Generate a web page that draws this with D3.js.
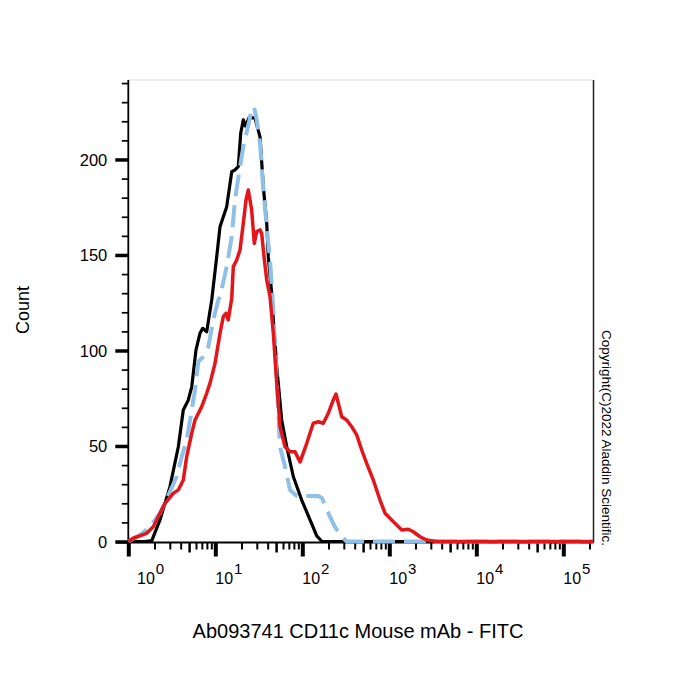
<!DOCTYPE html>
<html>
<head>
<meta charset="utf-8">
<script src="https://cdn.jsdelivr.net/npm/d3@7"></script>
<style>
  html, body { margin: 0; padding: 0; background: #fff; }
  svg { display: block; }
  text { font-family: Arial, "Liberation Sans", Helvetica, sans-serif; fill: #000; }
</style>
</head>
<body>
<svg id="chart" width="700" height="700"></svg>
<script>
// ---- data (x in log10 units of FITC intensity, y = count) ----
const blackX = [0, 0.19, 0.27, 0.364, 0.479, 0.575, 0.632, 0.69, 0.729, 0.778, 0.824, 0.855, 0.901, 0.959, 1.016, 1.054, 1.131, 1.189, 1.226, 1.264, 1.292, 1.322, 1.345, 1.39, 1.456, 1.514, 1.552, 1.591, 1.609, 1.648, 1.667, 1.706, 1.763, 1.821, 1.897, 1.993, 2.089, 2.166, 2.226, 3.5, 5.34];
const blackY = [0, 0, 0.5, 11.3, 28.7, 49.6, 68.8, 74.1, 81, 100.3, 109, 111.6, 109.8, 126.4, 149, 164.8, 175.3, 193.6, 194.5, 196.2, 213.7, 220.7, 217.5, 222, 221.6, 211.8, 185.6, 166.6, 149.1, 129.9, 116, 91.5, 63.6, 49.6, 33.9, 21.7, 11.3, 2.9, 0, 0, 0];

const blueX = [0, 0.134, 0.249, 0.364, 0.479, 0.556, 0.614, 0.671, 0.729, 0.767, 0.805, 0.862, 0.92, 0.977, 1.034, 1.054, 1.131, 1.189, 1.226, 1.284, 1.322, 1.379, 1.418, 1.445, 1.476, 1.514, 1.552, 1.591, 1.629, 1.667, 1.706, 1.744, 1.801, 1.859, 1.936, 2.184, 2.226, 2.318, 2.375, 2.453, 2.51, 5.34];
const blueY = [0, 3.4, 7.7, 14.8, 26.1, 33.9, 44.4, 53.1, 68.8, 79.3, 94.1, 96.8, 102, 116, 126.4, 128.2, 143.9, 159.6, 178.8, 196.2, 206.7, 218, 225.9, 227.6, 220.7, 208.5, 184, 164.8, 147.4, 121.2, 84.6, 49.6, 39.2, 27, 23.8, 23.8, 22.8, 13, 7.7, 2.5, 0, 0];

const redX = [0, 0.057, 0.211, 0.287, 0.364, 0.422, 0.517, 0.575, 0.632, 0.671, 0.729, 0.767, 0.844, 0.901, 0.939, 0.997, 1.054, 1.092, 1.123, 1.149, 1.189, 1.207, 1.246, 1.284, 1.322, 1.353, 1.379, 1.418, 1.448, 1.476, 1.514, 1.533, 1.56, 1.591, 1.629, 1.667, 1.706, 1.744, 1.801, 1.859, 1.916, 1.974, 2.051, 2.126, 2.184, 2.241, 2.299, 2.356, 2.387, 2.414, 2.453, 2.51, 2.568, 2.625, 2.683, 2.74, 2.816, 2.893, 2.951, 3.046, 3.143, 3.218, 3.276, 3.353, 3.43, 3.545, 5.34];
const redY = [0, 1.7, 4.3, 7.7, 14.8, 20, 25.2, 27, 32.2, 44.4, 56.6, 63.6, 70.6, 77.6, 82.8, 93.3, 109, 117.7, 119.5, 116, 127.3, 143.9, 147.4, 152.6, 166.6, 178.8, 184, 173.6, 156.1, 162.2, 163.1, 161.4, 149.1, 136.9, 128.2, 109, 82.8, 60.1, 49.6, 47, 47, 41.6, 51.4, 61.9, 62.7, 61.9, 67.1, 74.1, 77.2, 72.4, 65.3, 63.6, 60.1, 55.8, 47.9, 40.9, 32.2, 21.7, 14.8, 10.4, 6, 6.4, 5.1, 2.5, 0.8, 0, 0];

const yMajorTicks = [0, 50, 100, 150, 200];
const yMinorTicks = [10, 20, 30, 40, 60, 70, 80, 90, 110, 120, 130, 140, 160, 170, 180, 190, 210, 220, 230, 240];
const xDecades = [0, 1, 2, 3, 4, 5];
const xTitle = "Ab093741 CD11c Mouse mAb - FITC";
const yTitle = "Count";
const copyright = "Copyright(C)2022 Aladdin Scientific.";

// ---- layout ----
const svg = d3.select("#chart");
const pLeft = 128.3, pRight = 593.5, pTop = 80, pBottom = 541.5;
const x = d3.scaleLog().domain([1, Math.pow(10, 5.347)]).range([pLeft, pRight]);
const y = d3.scaleLinear().domain([0, 241.6]).range([pBottom, pTop]);

// frame (top & right)
svg.append("line").attr("x1", pLeft).attr("x2", pRight).attr("y1", pTop).attr("y2", pTop)
  .attr("stroke", "#dddddd").attr("stroke-width", 1);
svg.append("line").attr("x1", pRight).attr("x2", pRight).attr("y1", pTop).attr("y2", pBottom + 1)
  .attr("stroke", "#222").attr("stroke-width", 1.5);

// y axis
const yAxisMajor = d3.axisLeft(y).tickValues(yMajorTicks).tickSize(13).tickPadding(8).tickFormat(d3.format("d"));
const gy = svg.append("g").attr("transform", `translate(${pLeft},0)`).call(yAxisMajor);
gy.select(".domain").attr("stroke", "#000").attr("stroke-width", 1.8).attr("d", `M0,${pTop}V${pBottom + 1}`);
gy.selectAll(".tick line").attr("stroke", "#000").attr("stroke-width", 3.5);
gy.selectAll(".tick text").style("font-size", "16.5px").attr("font-family", null).attr("dy", "0.35em");
const gyMinor = svg.append("g").attr("transform", `translate(${pLeft},0)`)
  .call(d3.axisLeft(y).tickValues(yMinorTicks).tickSize(6.5).tickFormat(""));
gyMinor.select(".domain").remove();
gyMinor.selectAll(".tick line").attr("stroke", "#000").attr("stroke-width", 1.7);

// x axis ticks
const xMinor = [], xMid = [];
xDecades.forEach(d => {
  for (let m = 2; m <= 9; m++) {
    const v = m * Math.pow(10, d);
    if (v <= x.domain()[1]) (m === 5 ? xMid : xMinor).push(v);
  }
});
const xMajorVals = xDecades.map(d => Math.pow(10, d));
const gx = svg.append("g").attr("transform", `translate(0,${pBottom + 1})`)
  .call(d3.axisBottom(x).tickValues(xMajorVals).tickSize(14).tickFormat(""));
gx.select(".domain").attr("stroke", "#000").attr("stroke-width", 2).attr("d", `M${pLeft - 12},0H${pRight}`);
gx.selectAll(".tick line").attr("stroke", "#000").attr("stroke-width", 4);
const gxMid = svg.append("g").attr("transform", `translate(0,${pBottom + 1})`)
  .call(d3.axisBottom(x).tickValues(xMid).tickSize(10).tickFormat(""));
gxMid.select(".domain").remove();
gxMid.selectAll(".tick line").attr("stroke", "#000").attr("stroke-width", 2.5);
const gxMinor = svg.append("g").attr("transform", `translate(0,${pBottom + 1})`)
  .call(d3.axisBottom(x).tickValues(xMinor).tickSize(7).tickFormat(""));
gxMinor.select(".domain").remove();
gxMinor.selectAll(".tick line").attr("stroke", "#000").attr("stroke-width", 2);

// x tick labels 10^n
const xl = svg.append("g");
xDecades.forEach(d => {
  const px = Math.max(x(Math.pow(10, d)), 137);
  const t = xl.append("text").attr("x", px).attr("y", 584).style("font-size", "16px");
  t.append("tspan").text("10");
  t.append("tspan").attr("dy", -10).attr("dx", 1).style("font-size", "15px").text(String(d));
});

// curves
const line = d3.line().x(d => x(Math.pow(10, d[0]))).y(d => y(d[1]));
const plot = svg.append("g");
plot.append("path").datum(blackX.map((v, i) => [v, blackY[i]]))
  .attr("d", line).attr("fill", "none").attr("stroke", "#000").attr("stroke-width", 3.2)
  .attr("stroke-linejoin", "round");
plot.append("path").datum(blueX.map((v, i) => [v, blueY[i]]))
  .attr("d", line).attr("fill", "none").attr("stroke", "#8ec0e8").attr("stroke-width", 4)
  .attr("stroke-dasharray", "22,9").attr("stroke-linejoin", "round");
plot.append("path").datum(redX.map((v, i) => [v, redY[i]]))
  .attr("d", line).attr("fill", "none").attr("stroke", "#e3161b").attr("stroke-width", 3.5)
  .attr("stroke-linejoin", "round");

// titles
svg.append("text").attr("x", 358).attr("y", 638).attr("text-anchor", "middle")
  .style("font-size", "20px").text(xTitle);
svg.append("text").attr("transform", "translate(29,310) rotate(-90)").attr("text-anchor", "middle")
  .style("font-size", "18px").text(yTitle);
svg.append("text").attr("transform", "translate(602,330) rotate(90)").attr("text-anchor", "start")
  .style("font-size", "13.5px").text(copyright);
</script>
</body>
</html>
